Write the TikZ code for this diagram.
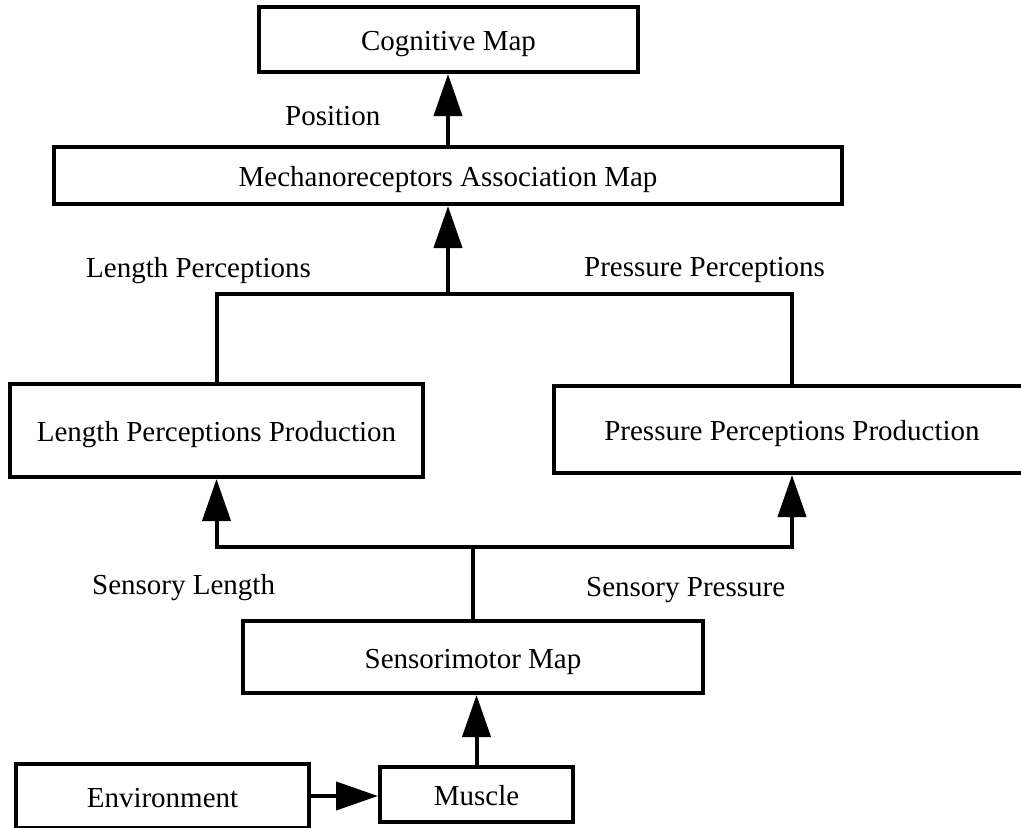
\documentclass[tikz,border=0pt]{standalone}
\usepackage{fontspec}
\setmainfont{Liberation Serif}
\usetikzlibrary{arrows.meta}
\begin{document}
\begin{tikzpicture}[x=1pt,y=-1pt,
  font=\fontsize{29}{34}\selectfont,
  box/.style={draw, line width=4pt, inner sep=0pt, text height=26pt, text depth=4pt},
  lbl/.style={inner sep=0pt, anchor=base west},
  arr/.style={line width=4pt, -{Triangle[length=42pt,width=28pt]}},
  ln/.style={line width=4pt}]
\useasboundingbox (0,0) rectangle (1021,828);
% boxes
\node[box, minimum width=379pt, minimum height=65pt] (cog) at (448.5,39.5) {Cognitive Map};
\node[box, minimum width=788pt, minimum height=57pt] (mech) at (448,175.5) {Mechanoreceptors Association Map};
\node[box, minimum width=413pt, minimum height=93pt] (lpp) at (216.5,430.5) {Length Perceptions Production};
\node[box, minimum width=476pt, minimum height=87pt] (ppp) at (792,429.5) {Pressure Perceptions Production};
\node[box, minimum width=460pt, minimum height=72pt] (sm) at (473,657) {Sensorimotor Map};
\node[box, minimum width=293pt, minimum height=64pt] (env) at (162.5,796) {Environment};
\node[box, minimum width=193pt, minimum height=55pt] (mus) at (476.5,794.5) {Muscle};
% junctions
\coordinate (jt) at (448,294);
\coordinate (jb) at (473,547);
% connectors
\draw[arr] (mech.north) -- (mech.north |- cog.south);
\draw[ln] (lpp.north) |- (jt) -| (ppp.north);
\draw[arr] (jt) -- (mech.south);
\draw[ln] (sm.north) -- (jb);
\draw[arr] (jb) -| (lpp.south);
\draw[arr] (jb) -| (ppp.south);
\draw[arr] (mus.north) -- (mus.north |- sm.south);
\draw[arr] (env.east) -- (env.east -| mus.west);
% labels
\node[lbl] (lpos) at (285,125) {Position};
\node[lbl] (llp) at (86,277) {Length Perceptions};
\node[lbl] (lpp2) at (584,276) {Pressure Perceptions};
\node[lbl] (lsl) at (92,594) {Sensory Length};
\node[lbl] (lsp) at (586,596) {Sensory Pressure};
\end{tikzpicture}
\end{document}
